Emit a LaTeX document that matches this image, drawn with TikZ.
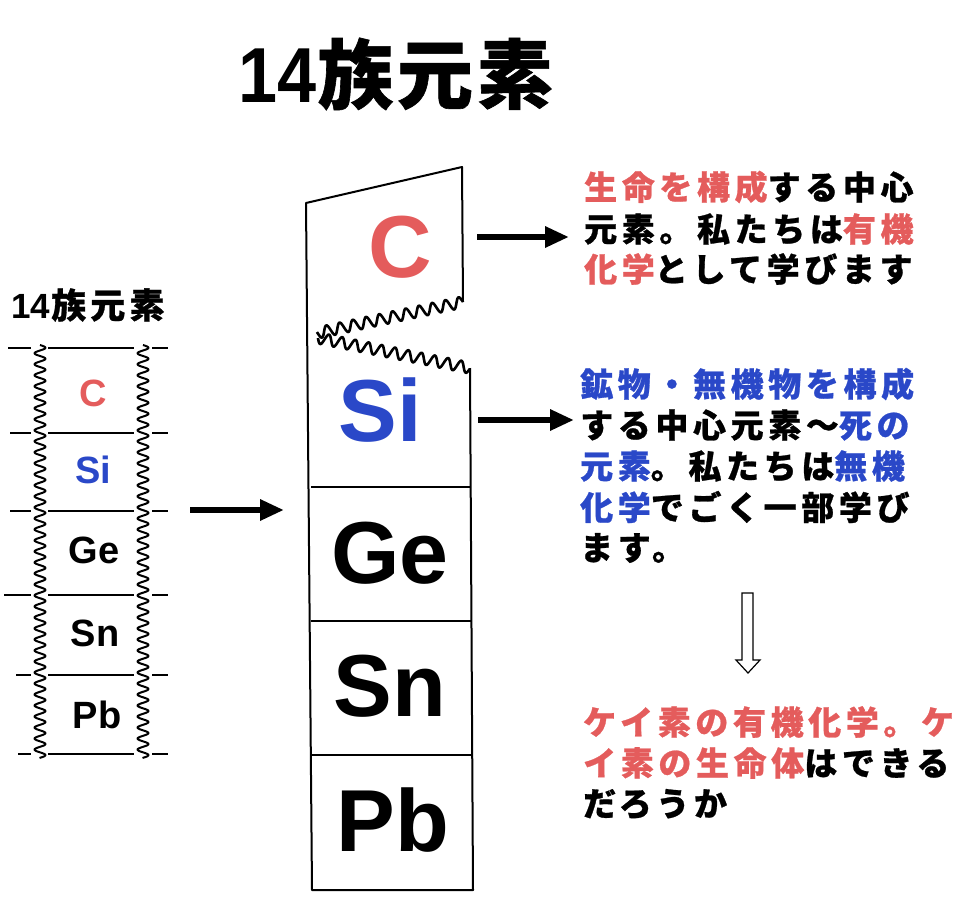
\documentclass[tikz,border=0pt]{standalone}
\usepackage{fontspec}
\usetikzlibrary{arrows.meta}
\newfontfamily\jp{Noto Sans CJK JP}[LetterSpace=14,BoldFeatures={FakeBold=0.8}]
\newfontfamily\jptitle{Noto Sans CJK JP}[LetterSpace=5,BoldFeatures={FakeBold=0.8}]
\newfontfamily\jpsmall{Noto Sans CJK JP}[LetterSpace=12,BoldFeatures={FakeBold=0.8}]
\newfontfamily\elem{Liberation Sans}
\definecolor{jred}{RGB}{228,92,92}
\definecolor{jblue}{RGB}{42,72,200}
\newcommand{\redt}[1]{\textcolor{jred}{#1}}
\newcommand{\bluet}[1]{\textcolor{jblue}{#1}}
\tikzset{
  jtxt/.style={anchor=west,inner sep=0pt,font=\jp\bfseries\fontsize{33}{33}\selectfont},
  bigel/.style={inner sep=0pt,text depth=0pt,font=\elem\bfseries\fontsize{88}{88}\selectfont},
  smallel/.style={inner sep=0pt,text depth=0pt,font=\elem\bfseries\fontsize{38}{38}\selectfont},
  fatarrow/.style={line width=6.5pt,-{Triangle[length=24pt,width=20pt]}},
  rule/.style={line width=1.1pt},
  edge/.style={line width=2pt},
  wave/.style={line width=2pt,line join=round}
}
\begin{document}
\begin{tikzpicture}[x=1pt,y=-1pt]
\useasboundingbox (0,0) rectangle (959,900);
% title
\node[anchor=west,inner sep=0pt] (title) at (238,74)
  {\scalebox{0.9}[1]{\elem\bfseries\fontsize{78}{78}\selectfont 14}\hspace{1pt}{\jptitle\bfseries\fontsize{76}{76}\selectfont 族元素}};
% left small table
\node[anchor=west,inner sep=0pt] (ltitle) at (11,305)
  {{\elem\bfseries\fontsize{35}{35}\selectfont 14}\hspace{1pt}{\jpsmall\bfseries\fontsize{35}{35}\selectfont 族元素}};
\foreach \y/\a in {348/8,433/10,511/10,595/4,675/16,754/18}{
  \draw[rule] (\a,\y) -- (31,\y);
  \draw[rule] (48,\y) -- (134,\y);
  \draw[rule] (152,\y) -- (168,\y);
}
\draw[wave] plot[domain=345:758,samples=600] ({40+5.5*sin(32.7*(\x-345))},\x);
\draw[wave] plot[domain=345:758,samples=600] ({143+5.5*sin(32.7*(\x-345))},\x);
\node[smallel,text=jred] (sC) at (93,393) {C};
\node[smallel,text=jblue] (sSi) at (93,470) {Si};
\node[smallel] (sGe) at (94,550) {Ge};
\node[smallel] (sSn) at (95,633) {Sn};
\node[smallel] (sPb) at (97,715) {Pb};
% big column
\coordinate (tl) at (306,203);
\coordinate (tr) at (462,167);
\coordinate (cr) at (463,302);
\coordinate (sr) at (470,368);
\coordinate (bl) at (312,890);
\coordinate (br) at (473,890);
\draw[edge,line join=round] (cr) -- (tr) -- (tl) -- (bl) -- (br) -- (sr);
% wavy tear lines
\draw[line width=2.6pt,line join=round] plot[domain=0:1,samples=300]
  ({463-146*\x-0.201*5.5*sin(\x*149/13.5*360)},{302+31*\x-0.980*5.5*sin(\x*149/13.5*360)});
\draw[line width=2.6pt,line join=round] plot[domain=0:1,samples=300]
  ({318+152*\x-0.200*5.5*sin(\x*155/13.5*360)},{338+30*\x+0.980*5.5*sin(\x*155/13.5*360)});
\draw[rule] (311,487) -- (470,487);
\draw[rule] (311,621) -- (471,621);
\draw[rule] (312,755) -- (472,755);
\node[bigel,text=jred] (bC) at (400,247) {C};
\node[bigel,text=jblue] (bSi) at (380,410) {Si};
\node[bigel] (bGe) at (390,553) {Ge};
\node[bigel] (bSn) at (390,686) {Sn};
\node[bigel] (bPb) at (393,820) {Pb};
% arrows
\coordinate (a0s) at (190,510);
\coordinate (a0e) at (284,510);
\draw[fatarrow] (a0s) -- (a0e);
\coordinate (a1s) at (477,237);
\coordinate (a1e) at (569,237);
\draw[fatarrow] (a1s) -- (a1e);
\coordinate (a2s) at (478,420);
\coordinate (a2e) at (574,420);
\draw[fatarrow] (a2s) -- (a2e);
% text block 1
\node[jtxt] (t11) at (584,187) {\redt{生命を構成}する中心};
\node[jtxt] (t12) at (584,229) {元素。私たちは\redt{有機}};
\node[jtxt] (t13) at (584,269) {\redt{化学}として学びます};
% text block 2
\node[jtxt] (t21) at (580,384) {\bluet{鉱物・無機物を構成}};
\node[jtxt] (t22) at (580,425) {する中心元素～\bluet{死の}};
\node[jtxt] (t23) at (580,466) {\bluet{元素}。私たちは\bluet{無機}};
\node[jtxt] (t24) at (580,507) {\bluet{化学}でごく一部学び};
\node[jtxt] (t25) at (580,548) {ます。};
% hollow down arrow
\draw[line width=1.2pt,line join=miter] (742,593) -- (753,593) -- (753,660) -- (760,660) -- (748,673) -- (736,660) -- (742,660) -- cycle;
% text block 3
\node[jtxt] (t31) at (583,722) {\redt{ケイ素の有機化学。ケ}};
\node[jtxt] (t32) at (583,763) {\redt{イ素の生命体}はできる};
\node[jtxt] (t33) at (583,804) {だろうか};
\end{tikzpicture}
\end{document}
